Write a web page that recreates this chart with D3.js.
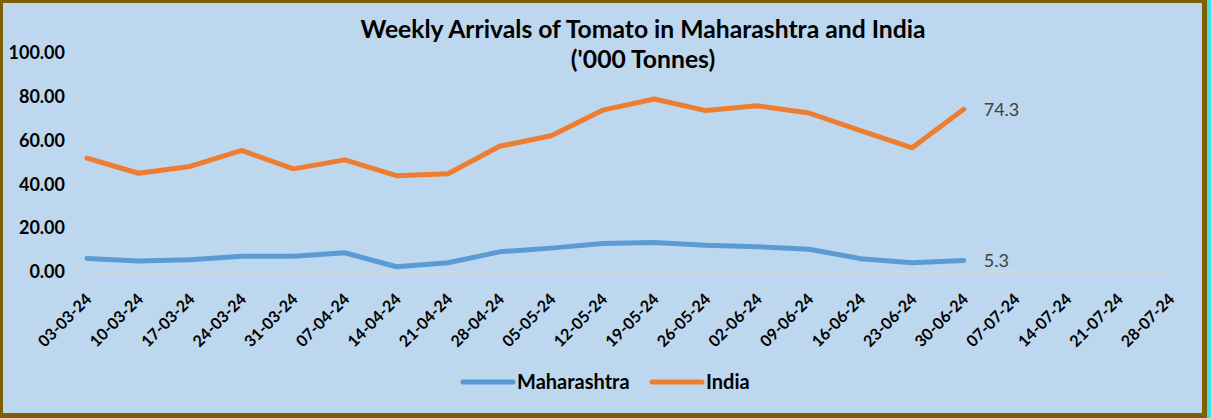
<!DOCTYPE html>
<html>
<head>
<meta charset="utf-8">
<script src="https://cdn.jsdelivr.net/npm/d3@7"></script>
<style>
  body { margin: 0; background: #fff; }
  text { font-family: Lato, "Open Sans", sans-serif; }
</style>
</head>
<body>
<div id="chart"></div>
<script>
// weekly dates on the x axis
var weeks = ["03-03-24", "10-03-24", "17-03-24", "24-03-24", "31-03-24", "07-04-24",
  "14-04-24", "21-04-24", "28-04-24", "05-05-24", "12-05-24", "19-05-24", "26-05-24",
  "02-06-24", "09-06-24", "16-06-24", "23-06-24", "30-06-24", "07-07-24", "14-07-24",
  "21-07-24", "28-07-24"];

// '000 tonnes
var maharashtra = [6.2, 5.0, 5.6, 7.2, 7.2, 8.8, 2.4, 4.2, 9.2, 10.9, 13.0, 13.5,
  12.2, 11.5, 10.4, 6.1, 4.2, 5.3];
var india = [52.0, 45.1, 48.2, 55.5, 47.1, 51.2, 44.0, 44.9, 57.4, 62.2, 73.9, 79.0,
  73.7, 75.9, 72.6, 64.6, 56.7, 74.3];

var yTicks = [0, 20, 40, 60, 80, 100];

var series = [
  {name: "Maharashtra", values: maharashtra, color: "#5B9BD5"},
  {name: "India", values: india, color: "#ED7D31"}
];

var W = 1211, H = 418;

var svg = d3.select("#chart").append("svg")
  .attr("width", W)
  .attr("height", H);

// background and frame
svg.append("rect")
  .attr("x", 0).attr("y", 0).attr("width", W).attr("height", H)
  .attr("fill", "#3FE3EA");
svg.append("rect")
  .attr("x", 0).attr("y", 0).attr("width", 1207).attr("height", H)
  .attr("fill", "#7F6000");
svg.append("rect")
  .attr("x", 3).attr("y", 3).attr("width", 1199).attr("height", 410)
  .attr("fill", "#BDD7EE");

var x = d3.scalePoint().domain(weeks).range([87, 1170]);
var y = d3.scaleLinear().domain([0, 100]).range([272, 53]);

// title
var title = svg.append("text")
  .attr("text-anchor", "middle")
  .style("font-weight", "bold")
  .style("font-size", "24.7px")
  .attr("fill", "#000");
title.append("tspan").attr("x", 643).attr("y", 38)
  .text("Weekly Arrivals of Tomato in Maharashtra and India");
title.append("tspan").attr("x", 643).attr("y", 68)
  .text("('000 Tonnes)");

// y axis labels (no line, no ticks)
var yAxis = svg.append("g")
  .attr("transform", "translate(73,0)")
  .call(d3.axisLeft(y).tickValues(yTicks).tickSize(0).tickPadding(8)
    .tickFormat(d3.format(".2f")));
yAxis.select(".domain").remove();
yAxis.selectAll("text")
  .style("font-family", "Lato, sans-serif")
  .style("font-size", "18px")
  .style("font-weight", "bold")
  .attr("fill", "#000");

// x axis line
svg.append("line")
  .attr("x1", x(weeks[0])).attr("x2", x(weeks[weeks.length - 1]))
  .attr("y1", y(0)).attr("y2", y(0))
  .attr("stroke", "#D9D9D9")
  .attr("stroke-width", 1.5);

// x labels, rotated
svg.selectAll("text.xlab")
  .data(weeks)
  .enter().append("text")
  .attr("class", "xlab")
  .attr("transform", function(d) { return "translate(" + (x(d) - 2.5) + ",292) rotate(-45)"; })
  .attr("dy", "0.72em")
  .attr("text-anchor", "end")
  .style("font-size", "16px")
  .style("font-weight", "bold")
  .attr("fill", "#000")
  .text(function(d) { return d; });

var line = d3.line()
  .x(function(d, i) { return x(weeks[i]); })
  .y(function(d) { return y(d); });

svg.selectAll("path.series")
  .data(series)
  .enter().append("path")
  .attr("class", "series")
  .attr("d", function(d) { return line(d.values); })
  .attr("fill", "none")
  .attr("stroke", function(d) { return d.color; })
  .attr("stroke-width", 5)
  .attr("stroke-linejoin", "round")
  .attr("stroke-linecap", "round");

// end labels
svg.selectAll("text.endlab")
  .data(series)
  .enter().append("text")
  .attr("class", "endlab")
  .attr("x", function(d) { return x(weeks[d.values.length - 1]) + 20; })
  .attr("y", function(d) { return y(d.values[d.values.length - 1]); })
  .attr("dy", "0.35em")
  .style("font-size", "18px")
  .attr("fill", "#404040")
  .text(function(d) { return d.values[d.values.length - 1].toFixed(1); });

// legend
var legendX = [463, 652];
var legend = svg.selectAll("g.legend")
  .data(series)
  .enter().append("g")
  .attr("class", "legend")
  .attr("transform", function(d, i) { return "translate(" + legendX[i] + ",382)"; });

legend.append("line")
  .attr("x1", 0).attr("x2", 50)
  .attr("y1", 0).attr("y2", 0)
  .attr("stroke", function(d) { return d.color; })
  .attr("stroke-width", 5)
  .attr("stroke-linecap", "round");

legend.append("text")
  .attr("x", 54)
  .attr("dy", "0.36em")
  .style("font-size", "20px")
  .style("font-weight", "bold")
  .attr("fill", "#000")
  .text(function(d) { return d.name; });
</script>
</body>
</html>
